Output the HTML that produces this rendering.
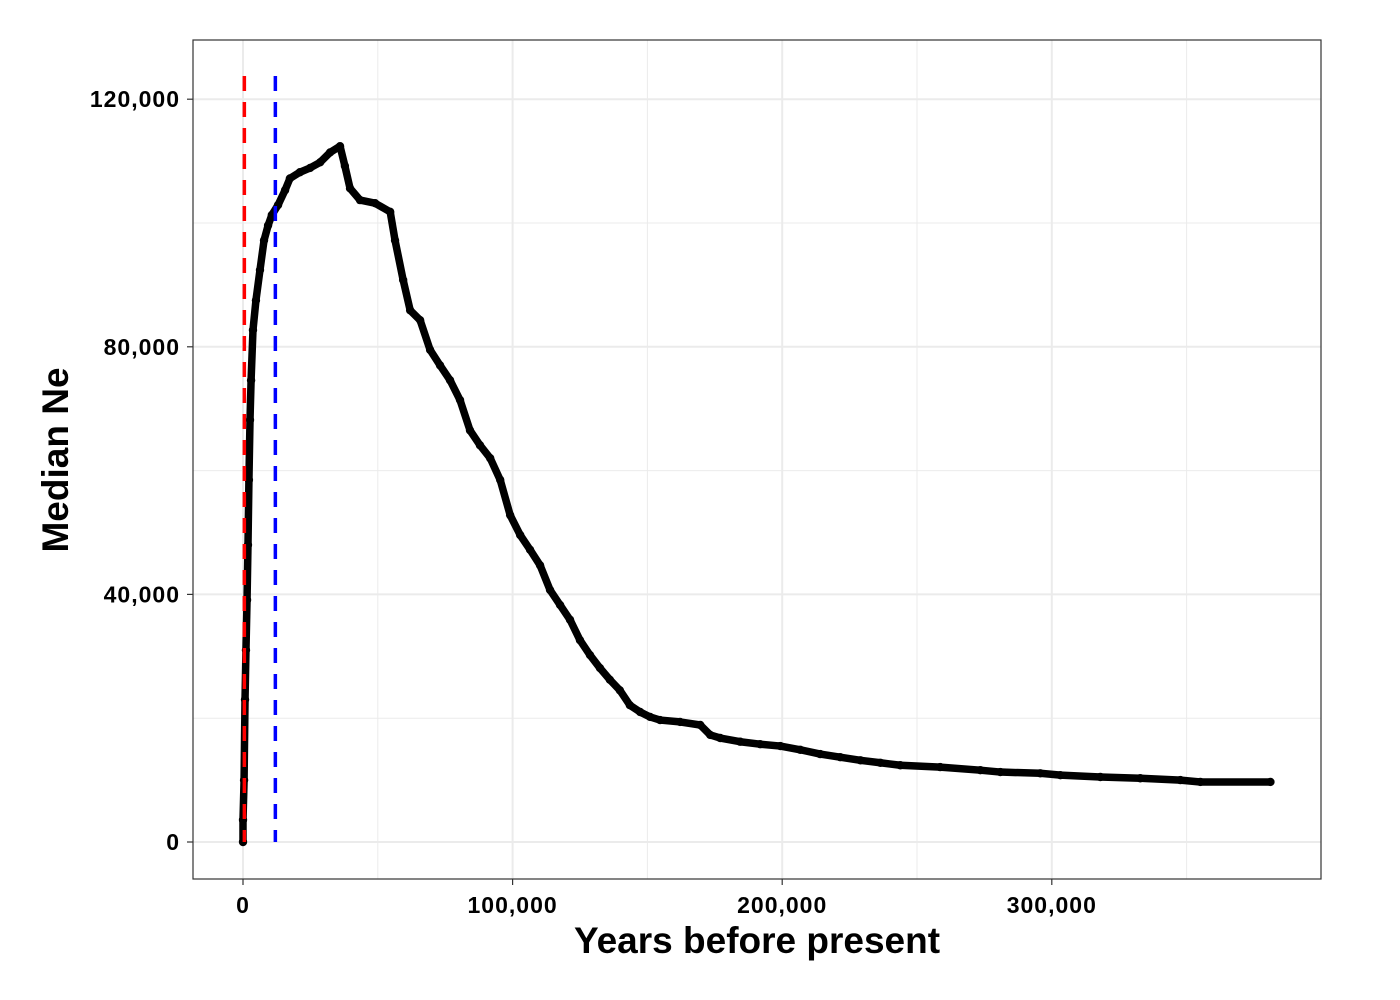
<!DOCTYPE html>
<html><head><meta charset="utf-8"><style>
body{margin:0;background:#fff;}
svg{display:block;font-family:"Liberation Sans",Arial,sans-serif;font-weight:bold;}
</style></head><body>
<svg id="chart" width="1400" height="1000">
<g id="grid"></g>
<g id="marks"></g>
<rect x="193" y="40" width="1128" height="839" fill="none" stroke="#333" stroke-width="1.2"/>
<g id="axes"></g>
<text x="757" y="953" text-anchor="middle" font-size="37">Years before present</text>
<text transform="translate(68,460) rotate(-90)" text-anchor="middle" font-size="37">Median Ne</text>
</svg>
<script>
const years=[0,0,400,750,1100,1500,1850,2200,2600,3000,3700,4800,6300,7800,9300,10700,13000,15600,17400,21100,24900,28600,32300,36000,37800,39700,43400,49000,54600,56400,59400,62000,65700,69400,73100,76800,80500,84200,87900,91700,95400,99100,102800,106500,110200,113900,117600,121300,125000,128700,132400,136100,139800,143500,147300,151000,154700,162100,169600,173300,177000,184400,191800,199300,206700,214100,221500,229000,236400,243800,258600,273500,280900,295700,303200,318000,332800,347700,355100,381100];
const ne=[0,3550,10000,23000,31000,39100,48000,58500,68200,74600,82700,87500,92400,97200,99600,101300,102900,105300,107200,108200,108900,109800,111400,112400,109200,105600,103700,103200,101800,97200,90800,85900,84300,79500,77000,74600,71400,66500,64100,62000,58500,52800,49600,47200,44700,40700,38300,35900,32600,30200,28100,26200,24500,22100,21000,20200,19700,19400,18900,17300,16800,16200,15800,15500,14900,14200,13700,13200,12800,12400,12100,11600,11300,11100,10800,10500,10300,10000,9700,9700];
const xTicks=[0,100000,200000,300000];
const yTicks=[0,40000,80000,120000];
const vlines=[500,12000];
const vcolors=["#ff0000","#0000ff"];
const X=v=>243+v*269.6/100000;
const Y=v=>842-v*247.6/40000;
const NS="http://www.w3.org/2000/svg";
function mk(t,a,p){const e=document.createElementNS(NS,t);for(const k in a)e.setAttribute(k,a[k]);p.appendChild(e);return e;}
const grid=document.getElementById('grid'),marks=document.getElementById('marks'),axes=document.getElementById('axes');
for(let i=-1;i<=7;i++){const v=i*50000;const x=X(v);if(x<193||x>1321)continue;
 const l=mk('line',{x1:x,x2:x,y1:40,y2:879,stroke:'#ebebeb','stroke-width':i%2?1:2},grid);
 }
for(let i=-1;i<=7;i++){const v=i*20000;const y=Y(v);if(y<40||y>879)continue;
 const l=mk('line',{x1:193,x2:1321,y1:y,y2:y,stroke:'#ebebeb','stroke-width':i%2?1:2},grid);
 }
xTicks.forEach(v=>{const x=X(v);
 mk('line',{x1:x,x2:x,y1:879,y2:885,stroke:'#333','stroke-width':1.2},axes);
 const t=mk('text',{x:x,y:913,'text-anchor':'middle','font-size':23,'letter-spacing':1},axes);t.textContent=v.toLocaleString('en-US');
 });
yTicks.forEach(v=>{const y=Y(v);
 mk('line',{x1:187,x2:193,y1:y,y2:y,stroke:'#333','stroke-width':1.2},axes);
 const t=mk('text',{x:180,y:y+8,'text-anchor':'end','font-size':23,'letter-spacing':1},axes);t.textContent=v.toLocaleString('en-US');
 });
const pts=years.map((v,i)=>X(v)+','+Y(ne[i])).join(' ');
const pl=mk('polyline',{points:pts,fill:'none',stroke:'#000','stroke-width':7.5,'stroke-linejoin':'round','stroke-linecap':'round'},marks);


years.forEach((v,i)=>{const c=mk('circle',{cx:X(v),cy:Y(ne[i]),r:4.2,fill:'#000'},marks);
 
 });
vlines.forEach((v,i)=>{const l=mk('line',{x1:X(v),x2:X(v),y1:76,y2:842,stroke:vcolors[i],'stroke-width':3.5,'stroke-dasharray':'15,11'},marks);
 
 });
</script>
</body></html>
